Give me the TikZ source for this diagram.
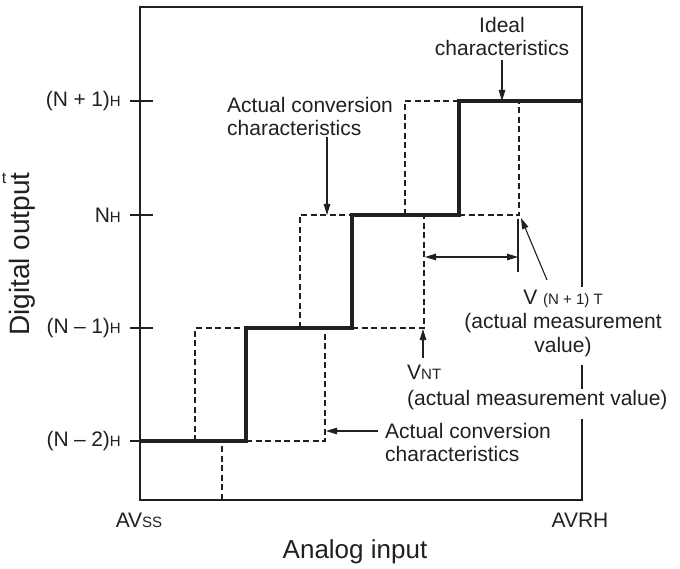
\documentclass[tikz,border=0pt]{standalone}
\usepackage{fontspec}
\setmainfont{Liberation Sans}
\usetikzlibrary{arrows.meta}
\definecolor{ink}{HTML}{231F20}
\newcommand{\smtxt}[1]{{\fontsize{15}{15}\selectfont #1}}
\newcommand{\topstrut}{\rule{0pt}{17pt}}
\newcommand{\botstrut}{\rule[-13pt]{0pt}{13pt}}
\newcommand{\gp}{\hspace{0.26em}}
\begin{document}
\begin{tikzpicture}[x=1pt,y=-1pt, ink,
  lbl/.style={font=\fontsize{21}{23}\selectfont, inner sep=0pt, text=ink},
  axislbl/.style={font=\fontsize{26}{28}\selectfont, inner sep=0pt, text=ink},
  frameline/.style={line width=2.6pt},
  idealline/.style={line width=3.2pt, line join=miter},
  dashln/.style={line width=1.1pt, dash pattern=on 6pt off 3.5pt},
  thinln/.style={line width=1.1pt},
  arr/.style={line width=1.1pt, -{Triangle[length=11pt,width=6.5pt]}},
  darr/.style={line width=1.1pt, {Triangle[length=11pt,width=6.5pt]}-{Triangle[length=11pt,width=6.5pt]}},
]
\useasboundingbox (0,0) rectangle (680,569);

% frame corners
\coordinate (BL) at (140,500);
\coordinate (TR) at (582,7);

% dashed actual characteristics
\draw[dashln] (246,441) -- (325,441) -- (325,328);
\draw[dashln] (195,441) -- (195,328) -- (246,328);
\draw[dashln] (352,328) -- (424,328) -- (424,215);
\draw[dashln] (300,328) -- (300,215) -- (352,215);
\draw[dashln] (459,215) -- (519,215) -- (519,101);
\draw[dashln] (405,215) -- (405,101) -- (459,101);
\draw[dashln] (222,446) -- (222,500);

% ideal characteristics
\draw[idealline] (140,441) -- (246,441) -- (246,328) -- (352,328) -- (352,215)
  -- (459,215) -- (459,101) -- (582,101);

% frame
\draw[frameline] (BL) rectangle (TR);

% ticks
\foreach \yy in {101,215,328,441} \draw[thinln] (130,\yy) -- (153,\yy);

% extension line
\coordinate (ext1) at (518,219);
\coordinate (ext2) at (518,272);
\draw[thinln] (ext1) -- (ext2);

% tick labels
\node[lbl, anchor=east] (l3) at (121,101) {(N\gp+\gp1)\smtxt{H}};
\node[lbl, anchor=east] (l2) at (121,215) {N\smtxt{H}};
\node[lbl, anchor=east] (l1) at (121,328) {(N\gp–\gp1)\smtxt{H}};
\node[lbl, anchor=east] (l0) at (121,441) {(N\gp–\gp2)\smtxt{H}};

% annotations
\node[lbl, align=center] (ideal) at (502,36.5) {Ideal\\characteristics};
\node[lbl, align=left, anchor=west] (actT) at (227,116.5) {Actual conversion\\characteristics};
\node[lbl, align=left, anchor=west] (actB) at (385,442) {Actual conversion\\characteristics};
\node[lbl, align=center, fill=white, inner xsep=3pt, anchor=north,
      font=\fontsize{21}{24}\selectfont] (vn1) at (563,287)
      {\topstrut V \smtxt{(N + 1) T}\\(actual measurement\\value)\botstrut};
\node[lbl, anchor=west] (vnt) at (407,372) {V\smtxt{NT}};
\node[lbl, anchor=base west, fill=white, inner xsep=2pt] (vntm) at (405,405.5)
      {\topstrut(actual measurement value)\botstrut};

% axis labels
\node[lbl] (avss) at (139,520) {AV\smtxt{SS}};
\node[lbl] (avrh) at (580,520) {AVRH};
\node[axislbl] (xlab) at (355,552) {Analog input};
\node[axislbl, rotate=90, font=\fontsize{28}{30}\selectfont] (ylab) at (22,254) {Digital output};
\node[lbl, font=\fontsize{16}{16}\selectfont] (frag) at (4,178) {t};

% arrows
\coordinate (a1s) at (502,60);   \coordinate (a1e) at (502,101);
\coordinate (a2s) at (327,137);  \coordinate (a2e) at (327,215);
\coordinate (a3s) at (547,280);  \coordinate (a3e) at (521,218);
\coordinate (a4s) at (423,358);  \coordinate (a4e) at (423,329);
\coordinate (a5s) at (378,431);  \coordinate (a5e) at (326,431);
\coordinate (d1) at (425,257);   \coordinate (d2) at (518,257);
\draw[arr] (a1s) -- (a1e);
\draw[arr] (a2s) -- (a2e);
\draw[arr] (a3s) -- (a3e);
\draw[arr] (a4s) -- (a4e);
\draw[arr] (a5s) -- (a5e);
\draw[darr] (d1) -- (d2);
\end{tikzpicture}
\end{document}
